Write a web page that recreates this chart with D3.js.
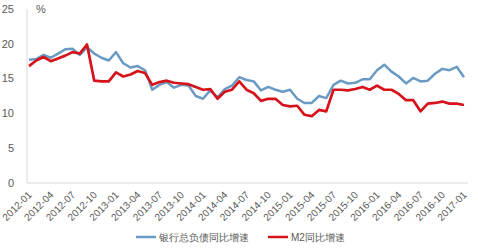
<!DOCTYPE html>
<html>
<head>
<meta charset="utf-8">
<script src="https://cdn.jsdelivr.net/npm/d3@7"></script>
<style>
  body { margin: 0; background: #fff; }
  text { font-family: "Liberation Sans", Arial, sans-serif; fill: #595959; }
</style>
</head>
<body>
<div id="chart"></div>
<script>
// monthly data 2012-01 .. 2017-01
const months = d3.range(61).map(i => {
    let y = 2012 + Math.floor(i / 12);
    let m = (i % 12) + 1;
    return `${y}-${m < 10 ? "0" + m : m}`;
});
const bankLiab = [17.7, 17.8, 18.4, 18.0, 18.6, 19.2, 19.3, 18.4, 19.5, 18.6,
    18.0, 17.6, 18.8, 17.2, 16.6, 16.8, 16.2, 13.4, 14.1, 14.5,
    13.7, 14.1, 14.0, 12.5, 12.1, 13.3, 12.3, 13.5, 14.0, 15.2,
    14.8, 14.6, 13.3, 13.8, 13.4, 13.1, 13.4, 12.1, 11.5, 11.5,
    12.5, 12.2, 14.1, 14.7, 14.3, 14.4, 14.9, 14.9, 16.2, 17.0,
    16.0, 15.3, 14.3, 15.1, 14.6, 14.7, 15.7, 16.4, 16.2, 16.7, 15.2];
const m2 = [16.8, 17.6, 18.1, 17.5, 17.9, 18.3, 18.8, 18.6, 19.9, 14.7,
    14.6, 14.6, 15.9, 15.3, 15.6, 16.1, 15.8, 14.1, 14.5, 14.7,
    14.4, 14.3, 14.2, 13.8, 13.4, 13.5, 12.1, 13.1, 13.4, 14.6,
    13.4, 12.9, 11.8, 12.1, 12.1, 11.2, 11.0, 11.1, 9.8, 9.6,
    10.5, 10.3, 13.4, 13.4, 13.3, 13.5, 13.8, 13.4, 14.0, 13.4,
    13.4, 12.8, 11.9, 11.9, 10.3, 11.4, 11.5, 11.7, 11.4, 11.4, 11.2];
const yTicks = [0, 5, 10, 15, 20, 25];
const seriesNames = ["银行总负债同比增速", "M2同比增速"];

let svgWidth = 478;
let svgHeight = 252;

let svg = d3.select("#chart")
    .append("svg")
    .attr("width", svgWidth)
    .attr("height", svgHeight);

let xScale = d3.scaleLinear()
    .domain([0, months.length - 1])
    .range([29, 464]);
let yScale = d3.scaleLinear()
    .domain([0, 25])
    .range([183, 9]);

// axes lines
svg.append("line")
    .attr("x1", 27).attr("x2", 27)
    .attr("y1", yScale(25)).attr("y2", yScale(0))
    .attr("stroke", "#d9d9d9");
svg.append("line")
    .attr("x1", 27).attr("x2", 468)
    .attr("y1", yScale(0)).attr("y2", yScale(0))
    .attr("stroke", "#d9d9d9");

// y tick labels
svg.selectAll(".ylab")
    .data(yTicks)
    .enter()
    .append("text")
    .attr("class", "ylab")
    .attr("x", 14)
    .attr("y", d => yScale(d))
    .attr("dy", "0.35em")
    .attr("text-anchor", "end")
    .attr("font-size", "11px")
    .text(d => d);

svg.append("text")
    .attr("x", 36)
    .attr("y", 13)
    .attr("font-size", "11px")
    .text("%");

// x tick labels every 3 months
let xLabelIdx = d3.range(0, months.length, 3);
svg.selectAll(".xlab")
    .data(xLabelIdx)
    .enter()
    .append("text")
    .attr("class", "xlab")
    .attr("transform", i => `translate(${xScale(i) + 1},${193}) rotate(-45)`)
    .attr("dy", "0.35em")
    .attr("text-anchor", "end")
    .attr("font-size", "10px")
    .text(i => months[i]);

// lines
let line = d3.line()
    .x((d, i) => xScale(i))
    .y(d => yScale(d));

svg.append("path")
    .datum(bankLiab)
    .attr("d", line)
    .attr("fill", "none")
    .attr("stroke", "#6a9ac4")
    .attr("stroke-width", 2.5)
    .attr("stroke-linejoin", "round");

svg.append("path")
    .datum(m2)
    .attr("d", line)
    .attr("fill", "none")
    .attr("stroke", "#d6121a")
    .attr("stroke-width", 2.7)
    .attr("stroke-linejoin", "round");

// legend
let legend = [
    { name: seriesNames[0], color: "#6a9ac4", x: 136 },
    { name: seriesNames[1], color: "#d6121a", x: 268 }
];
let lg = svg.selectAll(".legend")
    .data(legend)
    .enter()
    .append("g")
    .attr("transform", d => `translate(${d.x},237)`);
lg.append("line")
    .attr("x1", 0).attr("x2", 20)
    .attr("stroke", d => d.color)
    .attr("stroke-width", 2.5);
lg.append("text")
    .attr("x", 23)
    .attr("dy", "0.35em")
    .attr("font-size", "10px")
    .attr("font-family", "'Noto Sans CJK SC', sans-serif")
    .text(d => d.name);
</script>
</body>
</html>
